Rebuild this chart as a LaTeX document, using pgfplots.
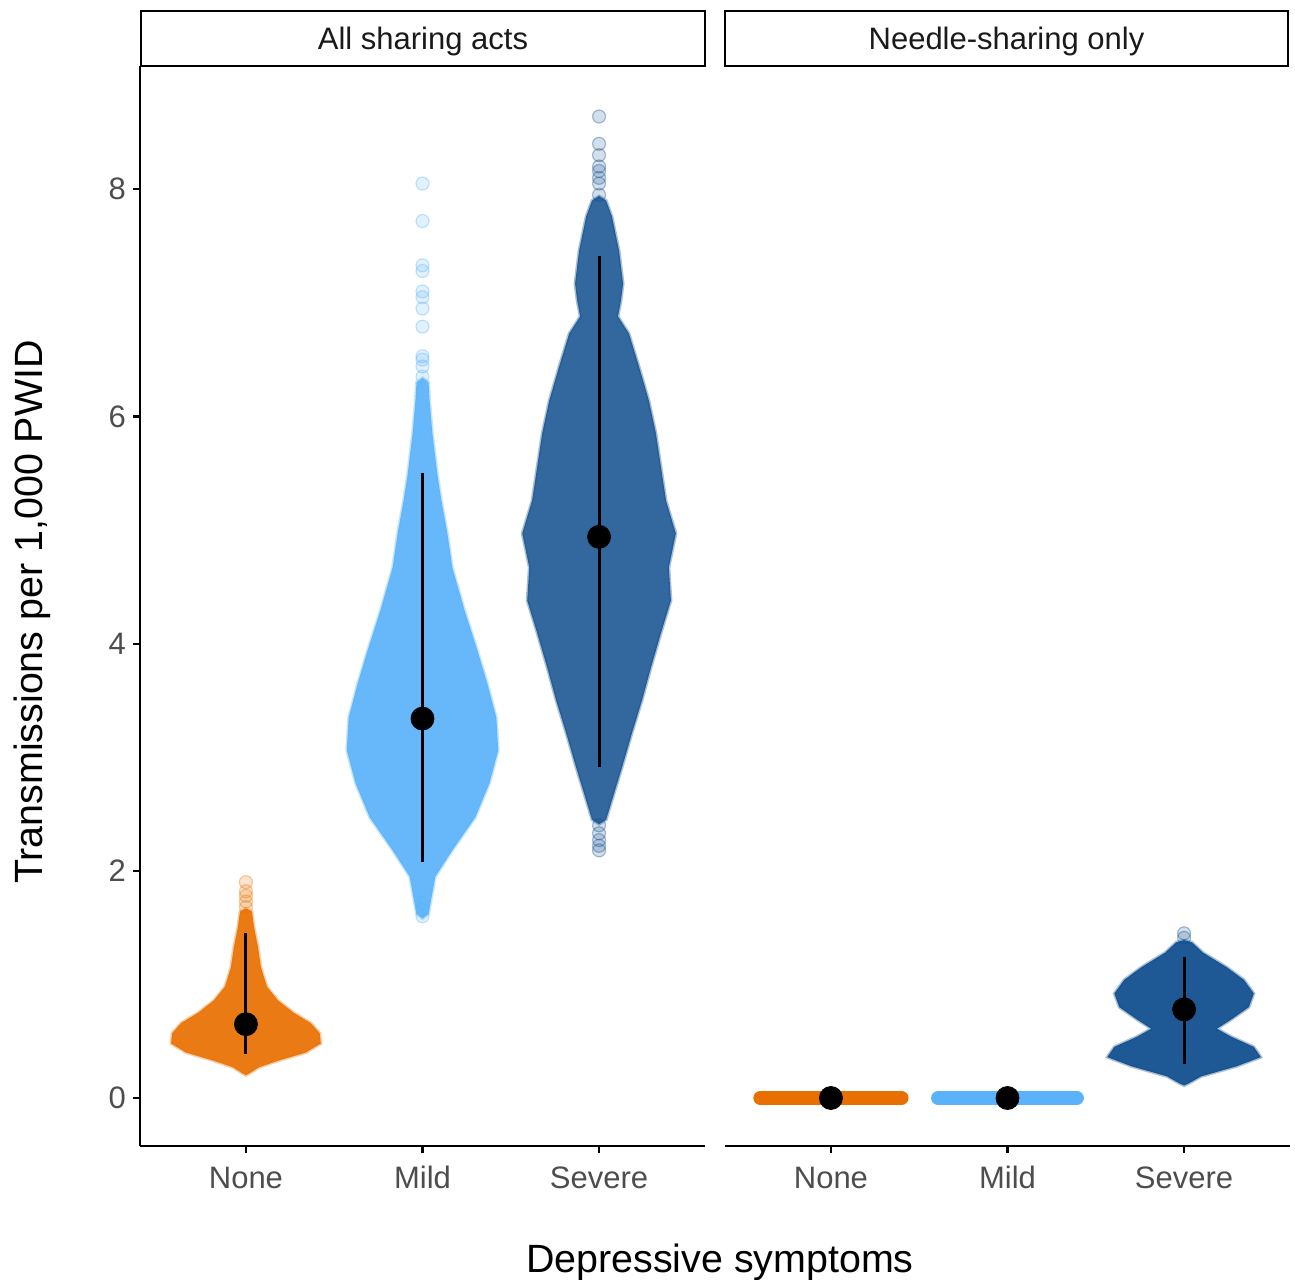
\documentclass[border=0pt]{standalone}
\usepackage{fontspec}
\setmainfont{Liberation Sans}
\usepackage{pgfplots}
\pgfplotsset{compat=1.18}
\definecolor{nonec}{RGB}{232,112,0}
\definecolor{mildc}{RGB}{90,178,250}
\definecolor{sevc}{RGB}{12,75,140}
\definecolor{tickgrey}{RGB}{77,77,77}
\definecolor{stripgrey}{RGB}{26,26,26}
\pgfplotsset{panel/.style={
  scale only axis, width=282.5pt, height=540pt,
  xmin=0.4, xmax=3.6, ymin=-0.4225, ymax=9.085,
  xtick={1,2,3}, xticklabels={None,Mild,Severe},
  tick align=outside, major tick length=3.5pt,
  tick style={black, line width=1.1pt},
  axis line style={-, black, line width=1.1pt},
  ticklabel style={font=\fontsize{15.5}{18}\selectfont, text=tickgrey},
  xticklabel style={yshift=-2.6pt, text height=11.5pt},
  /pgf/number format/assume math mode=true,
  anchor=south west,
},
body/.style={fill=#1, draw=#1, line width=1.5pt, draw opacity=0.35, fill opacity=0.92},
outl/.style={only marks, mark=*, mark size=3.25pt, mark options={draw=#1, fill=#1, fill opacity=0.18, draw opacity=0.35, line width=0.6pt}},
ebar/.style={black, line width=1.5pt},
pt/.style={only marks, mark=*, mark size=5.75pt, black},
}
\begin{document}
\begin{tikzpicture}
\useasboundingbox (0,0) rectangle (647.5pt,639.5pt);
% Panel 1
\begin{axis}[panel, at={(70pt,66.5pt)},
  axis x line*=bottom, axis y line*=left, ytick={0,2,4,6,8}]
% None
\addplot[body=nonec] coordinates {
(1,0.20) (1.023,0.22) (1.073,0.27) (1.186,0.33) (1.339,0.40) (1.424,0.48) (1.418,0.57)
(1.367,0.66) (1.271,0.75) (1.181,0.86) (1.119,0.98) (1.085,1.15) (1.068,1.33) (1.045,1.51) (1.034,1.64)
(1,1.67)
(0.966,1.64) (0.955,1.51) (0.932,1.33) (0.915,1.15) (0.881,0.98) (0.819,0.86) (0.729,0.75) (0.633,0.66)
(0.582,0.57) (0.576,0.48) (0.661,0.40) (0.814,0.33) (0.927,0.27) (0.977,0.22)
} -- cycle;
\addplot[outl=nonec] coordinates {(1,1.68) (1,1.73) (1,1.78) (1,1.82) (1,1.90)};
% Mild
\addplot[body=mildc] coordinates {
(2,1.58) (2.034,1.62) (2.073,1.95) (2.169,2.18) (2.299,2.47) (2.379,2.77) (2.429,3.06) (2.418,3.35)
(2.367,3.65) (2.311,3.94) (2.237,4.30) (2.169,4.67) (2.141,4.97) (2.107,5.26) (2.085,5.48) (2.056,5.85)
(2.040,6.14) (2.034,6.30) (2,6.34)
(1.966,6.30) (1.960,6.14) (1.944,5.85) (1.915,5.48) (1.893,5.26) (1.859,4.97) (1.831,4.67) (1.763,4.30)
(1.689,3.94) (1.633,3.65) (1.582,3.35) (1.571,3.06) (1.621,2.77) (1.701,2.47) (1.831,2.18) (1.927,1.95) (1.966,1.62)
} -- cycle;
\addplot[outl=mildc] coordinates {(2,1.60) (2,1.66) (2,1.72) (2,6.35) (2,6.44) (2,6.50) (2,6.53) (2,6.79) (2,6.95) (2,7.05) (2,7.10) (2,7.28) (2,7.33) (2,7.72) (2,8.05)};
% Severe
\addplot[body=sevc, fill opacity=0.84] coordinates {
(3,2.41) (3.040,2.45) (3.073,2.62) (3.130,2.91) (3.186,3.21) (3.243,3.50) (3.294,3.79) (3.350,4.09)
(3.407,4.38) (3.395,4.67) (3.435,4.97) (3.379,5.26) (3.350,5.56) (3.322,5.85) (3.282,6.14) (3.226,6.44)
(3.169,6.73) (3.107,6.88) (3.124,7.02) (3.136,7.17) (3.113,7.46) (3.073,7.76) (3.040,7.90) (3,7.94)
(2.960,7.90) (2.927,7.76) (2.887,7.46) (2.864,7.17) (2.876,7.02) (2.893,6.88) (2.831,6.73) (2.774,6.44)
(2.718,6.14) (2.678,5.85) (2.650,5.56) (2.621,5.26) (2.565,4.97) (2.605,4.67) (2.593,4.38) (2.650,4.09)
(2.706,3.79) (2.757,3.50) (2.814,3.21) (2.870,2.91) (2.927,2.62) (2.960,2.45)
} -- cycle;
\addplot[outl=sevc] coordinates {(3,2.18) (3,2.22) (3,2.27) (3,2.33) (3,2.40) (3,7.95) (3,8.05) (3,8.10) (3,8.16) (3,8.20) (3,8.30) (3,8.40) (3,8.64)};
% summaries
\addplot[ebar] coordinates {(1,0.39) (1,1.45)};
\addplot[ebar] coordinates {(2,2.08) (2,5.50)};
\addplot[ebar] coordinates {(3,2.91) (3,7.41)};
\addplot[pt] coordinates {(1,0.65) (2,3.34) (3,4.94)};
\end{axis}
% Panel 2
\begin{axis}[panel, at={(362.5pt,66.5pt)},
  axis x line*=bottom, axis y line=none, ytick=\empty]
\addplot[nonec, line width=7pt, line cap=round] coordinates {(0.60,0) (1.40,0)};
\addplot[mildc, line width=7pt, line cap=round] coordinates {(1.607,0) (2.393,0)};
\addplot[body=sevc] coordinates {
(3,0.11) (3.028,0.13) (3.096,0.19) (3.299,0.28) (3.435,0.36) (3.395,0.45) (3.266,0.54) (3.186,0.61)
(3.266,0.69) (3.367,0.80) (3.395,0.92) (3.339,1.04) (3.243,1.15) (3.107,1.28) (3.045,1.37) (3,1.39)
(2.955,1.37) (2.893,1.28) (2.757,1.15) (2.661,1.04) (2.605,0.92) (2.633,0.80) (2.734,0.69) (2.814,0.61)
(2.734,0.54) (2.605,0.45) (2.565,0.36) (2.701,0.28) (2.904,0.19) (2.972,0.13)
} -- cycle;
\addplot[outl=sevc] coordinates {(3,1.41) (3,1.45)};
\addplot[ebar] coordinates {(3,0.30) (3,1.24)};
\addplot[pt] coordinates {(1,0) (2,0) (3,0.78)};
\end{axis}
% strips
\draw[line width=1pt, fill=white] (70.5pt,606.5pt) rectangle (352.5pt,634pt);
\node[text=stripgrey, font=\fontsize{15.5}{18}\selectfont] at (211.5pt,618.5pt) {All sharing acts};
\draw[line width=1pt, fill=white] (362.5pt,606.5pt) rectangle (644pt,634pt);
\node[text=stripgrey, font=\fontsize{15.5}{18}\selectfont] at (503.25pt,618.5pt) {Needle-sharing only};
% axis titles
\node[rotate=90, font=\fontsize{19.7}{23}\selectfont] at (16pt,333.5pt) {Transmissions per 1,000 PWID};
\node[anchor=base, font=\fontsize{19.7}{23}\selectfont] at (360pt,3pt) {Depressive symptoms};
\end{tikzpicture}
\end{document}
